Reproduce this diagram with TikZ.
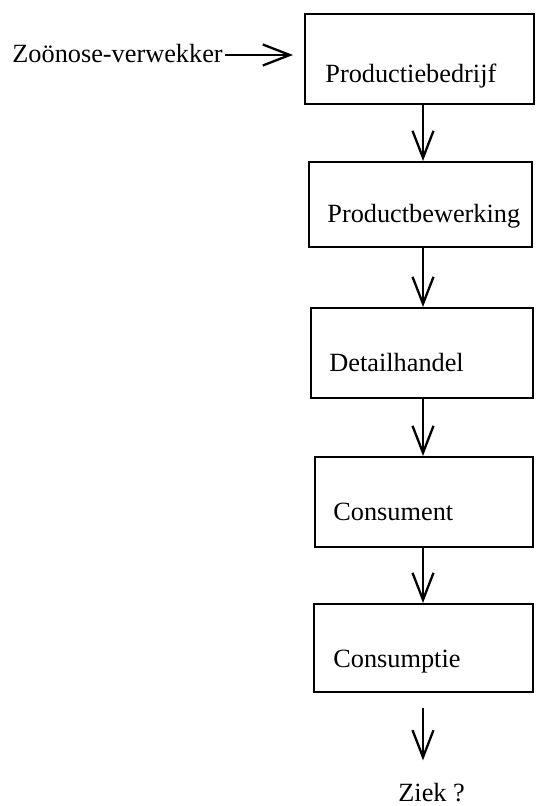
\documentclass[tikz,border=0pt]{standalone}
\usepackage{fontspec}
\setmainfont{Liberation Serif}
\usetikzlibrary{arrows.meta}

\tikzset{
  blok/.style={draw,line width=1pt,inner sep=0pt},
  tekst/.style={anchor=base west,inner sep=0pt,font=\fontsize{13.15}{15}\selectfont},
  pijl/.style={line width=1.15pt,-{Straight Barb[length=13.5pt,width=10.5pt,line width=1.15pt]}}
}

\begin{document}
\begin{tikzpicture}[x=0.5pt,y=-0.5pt]
\useasboundingbox (0,0) rectangle (535,806);

\node[blok,minimum width=114.5pt,minimum height=45pt] (b1) at (419.5,59) {};
\node[blok,minimum width=111.5pt,minimum height=42.5pt] (b2) at (420.5,204.5) {};
\node[blok,minimum width=111pt,minimum height=45pt] (b3) at (422,353) {};
\node[blok,minimum width=109pt,minimum height=45pt] (b4) at (424,502) {};
\node[blok,minimum width=109.5pt,minimum height=44pt] (b5) at (423.5,648) {};

\node[tekst] (t1) at (325,83) {Productiebedrijf};
\node[tekst] (t2) at (327,223) {Productbewerking};
\node[tekst] (t3) at (329,371) {Detailhandel};
\node[tekst] (t4) at (333,520) {Consument};
\node[tekst] (t5) at (333,667) {Consumptie};

\node[tekst] (bron) at (12,63) {Zoönose-verwekker};
\node[tekst] (ziek) at (398,801) {Ziek ?};

\coordinate (as) at (423,0);
\coordinate (ingang) at (293,55);
\coordinate (vrij) at (423,708);

\draw[pijl] ([xshift=1pt]bron.east |- ingang) -- (ingang);
\draw[pijl] (b1.south -| as) -- (b2.north -| as);
\draw[pijl] (b2.south -| as) -- (b3.north -| as);
\draw[pijl] (b3.south -| as) -- (b4.north -| as);
\draw[pijl] (b4.south -| as) -- (b5.north -| as);
\draw[pijl] (vrij) -- ([yshift=11pt]ziek.north -| as);
\end{tikzpicture}
\end{document}
